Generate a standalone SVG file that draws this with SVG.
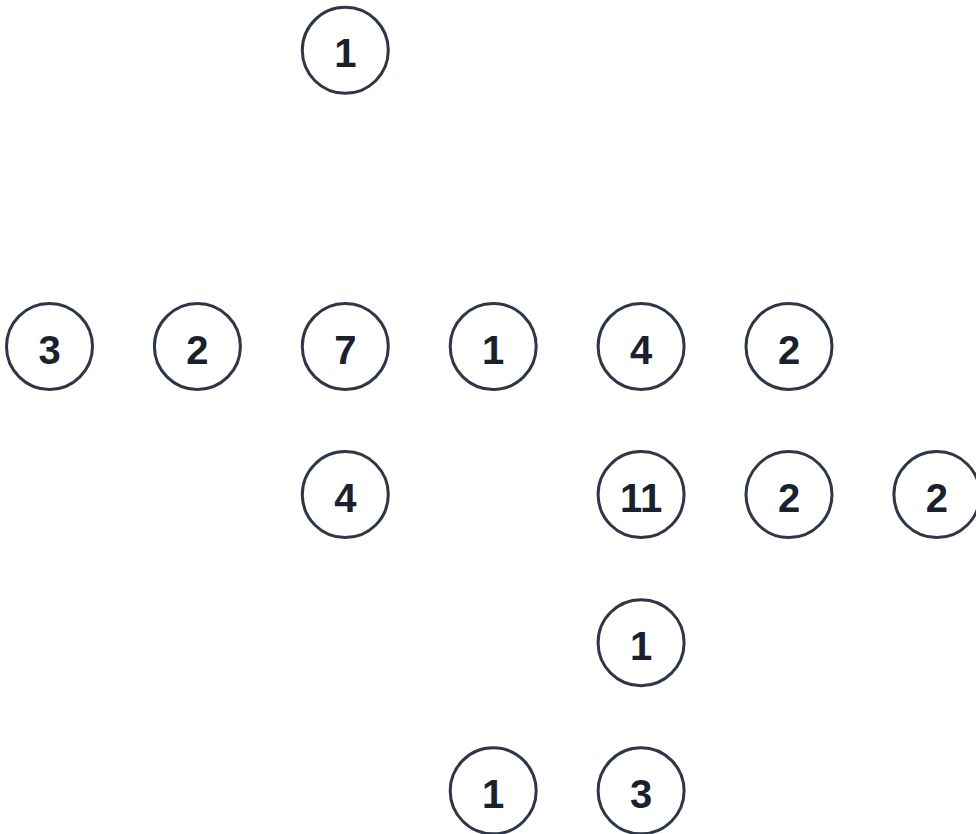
<svg xmlns="http://www.w3.org/2000/svg" width="976" height="834" viewBox="0 0 976 834">
<style>
.n circle{fill:#fff;stroke:#2d3748;stroke-width:3}
.n text{font-family:"Liberation Sans",Arial,sans-serif;font-weight:bold;font-size:40px;fill:#1a202c;text-anchor:middle}
</style>
<rect width="976" height="834" fill="#fff"/>
<g id="connectors"></g>
<g id="n1" class="n"><circle cx="345.3" cy="50.3" r="43"/><text x="345.3" y="67.3">1</text></g>
<g id="n2" class="n"><circle cx="49.5" cy="346.5" r="43"/><text x="49.5" y="363.5">3</text></g>
<g id="n3" class="n"><circle cx="197.4" cy="346.5" r="43"/><text x="197.4" y="363.5">2</text></g>
<g id="n4" class="n"><circle cx="345.3" cy="346.5" r="43"/><text x="345.3" y="363.5">7</text></g>
<g id="n5" class="n"><circle cx="493.2" cy="346.5" r="43"/><text x="493.2" y="363.5">1</text></g>
<g id="n6" class="n"><circle cx="641.1" cy="346.5" r="43"/><text x="641.1" y="363.5">4</text></g>
<g id="n7" class="n"><circle cx="789" cy="346.5" r="43"/><text x="789" y="363.5">2</text></g>
<g id="n8" class="n"><circle cx="345.3" cy="494.6" r="43"/><text x="345.3" y="511.6">4</text></g>
<g id="n9" class="n"><circle cx="641.1" cy="494.6" r="43"/><text x="641.1" y="511.6">11</text></g>
<g id="n10" class="n"><circle cx="789" cy="494.6" r="43"/><text x="789" y="511.6">2</text></g>
<g id="n11" class="n"><circle cx="936.9" cy="494.6" r="43"/><text x="936.9" y="511.6">2</text></g>
<g id="n12" class="n"><circle cx="641.1" cy="642.7" r="43"/><text x="641.1" y="659.7">1</text></g>
<g id="n13" class="n"><circle cx="493.2" cy="790.8" r="43"/><text x="493.2" y="807.8">1</text></g>
<g id="n14" class="n"><circle cx="641.1" cy="790.8" r="43"/><text x="641.1" y="807.8">3</text></g>
</svg>
